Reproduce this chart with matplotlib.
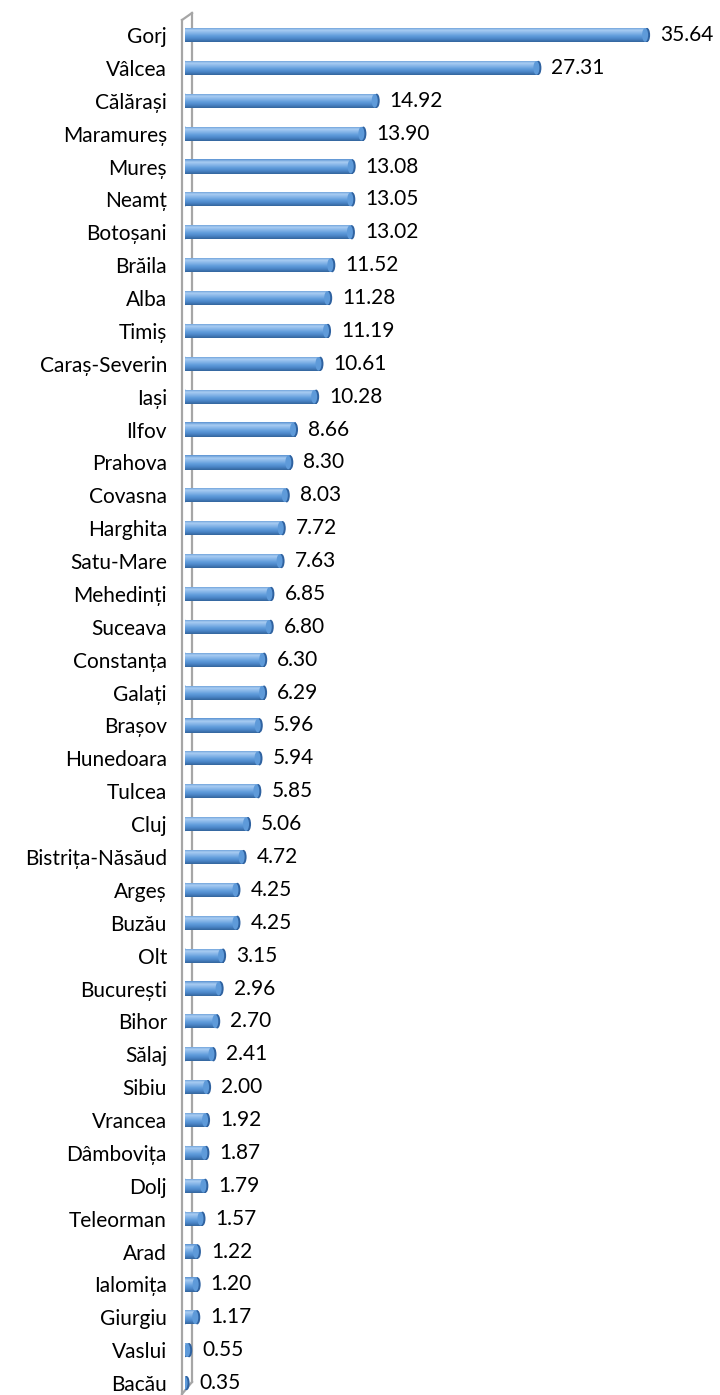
import numpy as np
import matplotlib
matplotlib.use('Agg')
import matplotlib.pyplot as plt
from matplotlib.colors import LinearSegmentedColormap
from matplotlib.patches import Ellipse, Rectangle

plt.rcParams['font.family'] = ['Lato', 'DejaVu Sans']

counties = ['Gorj', 'Vâlcea', 'Călărași', 'Maramureș', 'Mureș', 'Neamț', 'Botoșani',
            'Brăila', 'Alba', 'Timiș', 'Caraș-Severin', 'Iași', 'Ilfov', 'Prahova',
            'Covasna', 'Harghita', 'Satu-Mare', 'Mehedinți', 'Suceava', 'Constanța',
            'Galați', 'Brașov', 'Hunedoara', 'Tulcea', 'Cluj', 'Bistrița-Năsăud',
            'Argeș', 'Buzău', 'Olt', 'București', 'Bihor', 'Sălaj', 'Sibiu', 'Vrancea',
            'Dâmbovița', 'Dolj', 'Teleorman', 'Arad', 'Ialomița', 'Giurgiu', 'Vaslui',
            'Bacău']
values = [35.64, 27.31, 14.92, 13.90, 13.08, 13.05, 13.02, 11.52, 11.28, 11.19,
          10.61, 10.28, 8.66, 8.30, 8.03, 7.72, 7.63, 6.85, 6.80, 6.30, 6.29, 5.96,
          5.94, 5.85, 5.06, 4.72, 4.25, 4.25, 3.15, 2.96, 2.70, 2.41, 2.00, 1.92,
          1.87, 1.79, 1.57, 1.22, 1.20, 1.17, 0.55, 0.35]

W, H = 720, 1395
fig = plt.figure(figsize=(W / 100, H / 100), dpi=100)

# pixel geometry of the plot area
x0_px, px_per_unit = 185, 13.05
y0_px, row_px = 35, 32.88
xmax = (712 - x0_px) / px_per_unit
ytop, ybot = -0.5, (1394 - y0_px) / row_px
ax = fig.add_axes([x0_px / W, 1 - (y0_px + ybot * row_px) / H,
                   (712 - x0_px) / W, (ybot - ytop) * row_px / H])

cmap = LinearSegmentedColormap.from_list(
    'cyl', ['#5a92d2', '#a9cdf2', '#84b4e8', '#5f9cdb', '#4a84c6', '#33659d'])
grad = np.linspace(0, 1, 64).reshape(-1, 1)

h = 0.43
cap_w = 6 / px_per_unit
rim = 2 / px_per_unit
n = len(values)
for i, v in enumerate(values):
    end = max(v - cap_w / 2, 0.05)
    rect = Rectangle((0, i - h / 2), end, h, facecolor='none', edgecolor='none')
    ax.add_patch(rect)
    im = ax.imshow(grad, extent=[0, end, i + h / 2, i - h / 2], cmap=cmap,
                   aspect='auto', interpolation='bilinear', zorder=2)
    im.set_clip_path(rect)
    # rounded start and end faces of the cylinder
    ax.add_patch(Ellipse((0, i), cap_w, h, facecolor='#5b96d8',
                         edgecolor='none', zorder=1.9))
    ax.add_patch(Ellipse((end, i), cap_w, h, facecolor='#2f62a0',
                         edgecolor='none', zorder=3))
    ax.add_patch(Ellipse((end - rim, i), cap_w, h * 0.96, facecolor='#5e9ad9',
                         edgecolor='none', zorder=3.1))
    ax.text(v + 10 / px_per_unit, i, f'{v:.2f}', va='center', ha='left',
            fontsize=15, color='black')

# 3D wall lines
fx = -3 / px_per_unit
bx = 7 / px_per_unit
wall = dict(color='#a6a6a6', lw=1.6, clip_on=False, zorder=1)
ax.plot([fx, fx], [ybot, (20 - y0_px) / row_px], **wall)
ax.plot([fx, bx], [(20 - y0_px) / row_px, (13 - y0_px) / row_px], **wall)
ax.plot([bx, bx], [(13 - y0_px) / row_px, (1382 - y0_px) / row_px], **wall)
ax.plot([fx, bx], [ybot, (1382 - y0_px) / row_px], **wall)

ax.set_xlim(0, xmax)
ax.set_ylim(ybot, ytop)
ax.set_yticks(range(n))
ax.set_yticklabels(counties, fontsize=15)
ax.tick_params(axis='y', length=0, pad=13)
ax.set_xticks([])
for s in ax.spines.values():
    s.set_visible(False)

fig.savefig('out.png', dpi=100)
